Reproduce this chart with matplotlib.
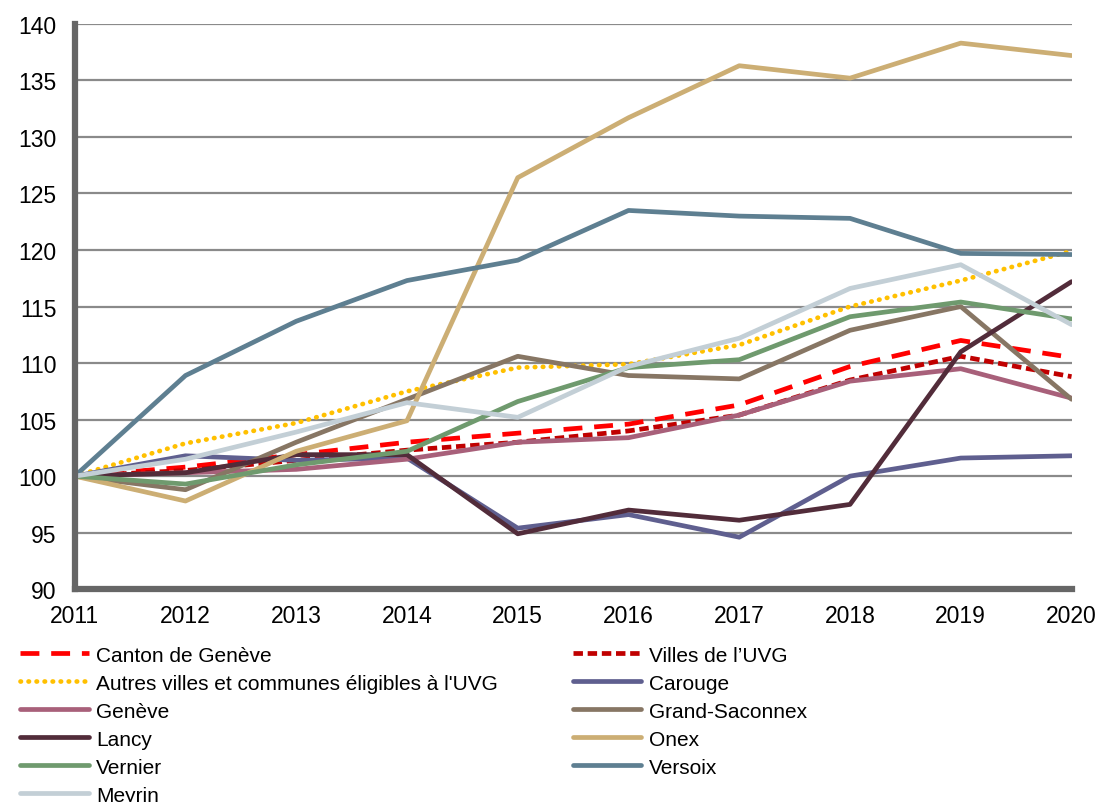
import numpy as np
import matplotlib
matplotlib.use("Agg")
import matplotlib.pyplot as plt

# ---------------------------------------------------------------------
# Data (index, 2011 = 100)
# ---------------------------------------------------------------------
years = [2011, 2012, 2013, 2014, 2015, 2016, 2017, 2018, 2019, 2020]

canton = [100, 100.8, 101.9, 103.0, 103.8, 104.6, 106.3, 109.7, 112.0, 110.5]
villes_uvg = [100, 100.5, 101.4, 102.3, 103.0, 104.0, 105.4, 108.5, 110.6, 108.8]
autres = [100, 102.9, 104.7, 107.5, 109.6, 109.9, 111.6, 115.0, 117.3, 119.9]
carouge = [100, 101.8, 101.4, 101.6, 95.4, 96.6, 94.6, 100.0, 101.6, 101.8]
geneve = [100, 100.3, 100.6, 101.5, 103.0, 103.4, 105.4, 108.4, 109.5, 106.9]
grand_saconnex = [100, 98.8, 103.0, 106.8, 110.6, 108.9, 108.6, 112.9, 115.0, 106.8]
lancy = [100, 100.3, 101.9, 101.9, 94.9, 97.0, 96.1, 97.5, 111.0, 117.2]
onex = [100, 97.8, 102.2, 104.9, 126.4, 131.7, 136.3, 135.2, 138.3, 137.2]
vernier = [100, 99.3, 101.0, 102.2, 106.6, 109.6, 110.3, 114.1, 115.4, 113.9]
versoix = [100, 108.9, 113.7, 117.3, 119.1, 123.5, 123.0, 122.8, 119.7, 119.6]
meyrin = [100, 101.5, 103.9, 106.5, 105.2, 109.7, 112.2, 116.6, 118.7, 113.4]

labels = [
    "Canton de Genève",
    "Villes de l\u2019UVG",
    "Autres villes et communes éligibles à l'UVG",
    "Carouge",
    "Genève",
    "Grand-Saconnex",
    "Lancy",
    "Onex",
    "Vernier",
    "Versoix",
    "Meyrin",
]
series = [canton, villes_uvg, autres, carouge, geneve, grand_saconnex,
          lancy, onex, vernier, versoix, meyrin]

colors = ["#ff0000", "#c00000", "#ffc000", "#5f5f8f", "#a8607a", "#877664",
          "#522c3a", "#ccae74", "#6f9a6e", "#5e7f91", "#c3cfd6"]
styles = [(0, (4, 2.5)), (0, (2, 1)), (0, (0.1, 1.6)), "-", "-", "-",
          "-", "-", "-", "-", "-"]

plt.rcParams["font.family"] = ["Liberation Sans", "DejaVu Sans"]

fig = plt.figure(figsize=(10.99, 8.03), dpi=100)
ax = fig.add_axes([0.068, 0.265, 0.907, 0.704])

lines = []
for vals, lab, col, ls in zip(series, labels, colors, styles):
    cap = "round" if lab.startswith("Autres") else "butt"
    ln, = ax.plot(years, vals, color=col, lw=3.4, ls=ls, label=lab,
                  solid_capstyle="round", dash_capstyle=cap)
    lines.append(ln)

ax.set_xlim(2011, 2020)
ax.set_ylim(90, 140)
ax.set_yticks(np.arange(90, 141, 5))
ax.set_xticks(years)
ax.yaxis.grid(True, color="#8a8a8a", lw=1.6)
ax.set_axisbelow(True)
ax.tick_params(length=0, labelsize=16.5, pad=13)
ax.tick_params(axis="x", pad=11)
for s in ["top", "right"]:
    ax.spines[s].set_visible(False)
for s in ["left", "bottom"]:
    ax.spines[s].set_color("#666666")
    ax.spines[s].set_linewidth(4.5)

# legend is filled row by row in the original: reorder for matplotlib columns
order = [0, 2, 4, 6, 8, 10, 1, 3, 5, 7, 9]
ax.legend([lines[i] for i in order], [labels[i] for i in order],
          loc="upper left", bbox_to_anchor=(-0.055, -0.100), ncol=2,
          frameon=False, fontsize=15, handlelength=3.3, handletextpad=0.35,
          columnspacing=3.6, labelspacing=0.43, borderaxespad=0,
          borderpad=0)

fig.savefig("out.png", dpi=100)
